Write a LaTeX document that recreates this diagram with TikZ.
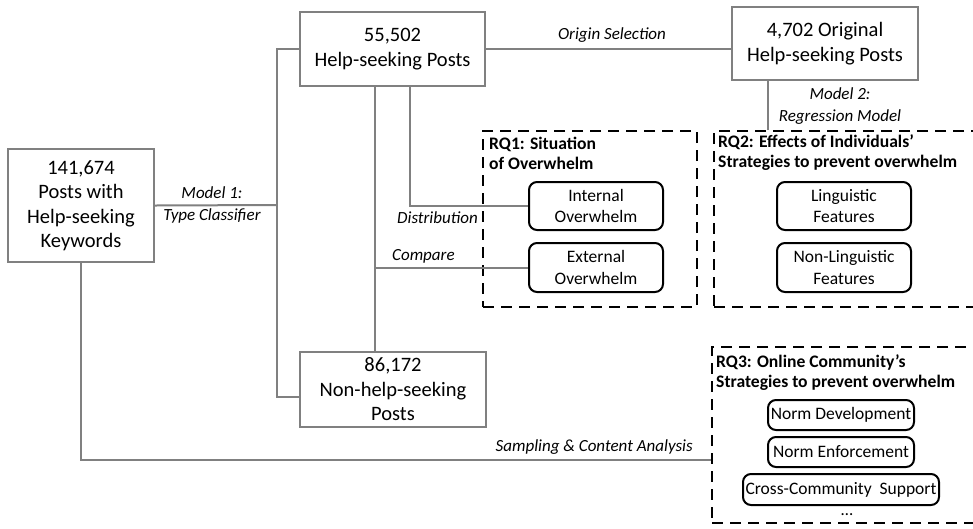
\documentclass[tikz,border=0pt]{standalone}
\usepackage{fontspec}
\setmainfont{Carlito}
\usetikzlibrary{calc}
\definecolor{lgray}{RGB}{128,128,128}
\tikzset{
  bigbox/.style={draw=lgray, line width=2.4pt, inner sep=0pt, align=center,
    font=\fontsize{20.5}{24.5}\selectfont},
  rbox/.style={draw=black, line width=2pt, rounded corners=8pt, inner sep=0pt, align=center,
    font=\fontsize{17.5}{21.5}\selectfont},
  rqbox/.style={draw=black, line width=2.6pt, dash pattern=on 11pt off 7pt, inner sep=0pt},
  rqtitle/.style={font=\bfseries\fontsize{17.6}{20}\selectfont, align=left, anchor=west, inner sep=0pt},
  conn/.style={draw=lgray, line width=2pt},
  lbl/.style={font=\itshape\fontsize{17}{22}\selectfont, align=center, inner sep=0pt}
}
\begin{document}
\begin{tikzpicture}[x=1pt, y=-1pt]
\useasboundingbox (0,0) rectangle (973,528);
\clip (0,0) rectangle (973,528);
% dashed regions
\node[rqbox, minimum width=214pt, minimum height=176pt] (rq1) at (590,219) {};
\node[rqbox, minimum width=271pt, minimum height=176pt] (rq2) at (849.5,219) {};
\node[rqbox, minimum width=273pt, minimum height=176pt] (rq3) at (848.5,435) {};
\node[rqtitle] (t1) at (489,153) {RQ1: Situation\\of Overwhelm};
\node[rqtitle] (t2) at (718,153) {RQ2: Effects of Individuals’\\Strategies to prevent overwhelm};
\node[rqtitle] (t3) at (716,373) {RQ3: Online Community’s\\Strategies to prevent overwhelm};
% main boxes
\node[bigbox, minimum width=146pt, minimum height=113pt] (A) at (81,205.5) {141,674\\Posts with\\Help-seeking\\Keywords};
\node[bigbox, minimum width=185pt, minimum height=74pt] (B) at (392.5,49) {55,502\\Help-seeking Posts};
\node[bigbox, minimum width=186pt, minimum height=73pt] (C) at (825,43.5) {4,702 Original\\Help-seeking Posts};
\node[bigbox, minimum width=186pt, minimum height=75pt] (D) at (393,389.5) {86,172\\Non-help-seeking\\Posts};
% inner boxes
\node[rbox, minimum width=134pt, minimum height=48pt] (int) at (596,206) {Internal\\Overwhelm};
\node[rbox, minimum width=134pt, minimum height=49pt] (ext) at (596,267.5) {External\\Overwhelm};
\node[rbox, minimum width=134pt, minimum height=48pt] (lin) at (844,206) {Linguistic\\Features};
\node[rbox, minimum width=134pt, minimum height=49pt] (nlin) at (844,267.5) {Non-Linguistic\\Features};
\node[rbox, minimum width=146pt, minimum height=30pt] (nd) at (841,415) {Norm Development};
\node[rbox, minimum width=146pt, minimum height=30pt] (ne) at (841,452) {Norm Enforcement};
\node[rbox, minimum width=196pt, minimum height=31pt] (cc) at (841,489.5) {Cross-Community\ \ Support};
\node[font=\fontsize{17}{20}\selectfont, inner sep=0pt] (dots) at (847,515) {…};
% connectors
\coordinate (jm) at (277,205);
\coordinate (dx) at (410,0);
\coordinate (cx) at (375,0);
\coordinate (m2) at (768,0);
\coordinate (sy) at (0,460);
\draw[conn] (A.east) -- (jm);
\draw[conn] (B.west) -| (jm) |- ($(D.west)+(0,7)$);
\draw[conn] (B.east) -- (C.west |- B.east);
\draw[conn] (C.south -| m2) -- (rq2.north -| m2);
\draw[conn] (B.south -| dx) |- (int.west);
\draw[conn] (B.south -| cx) -- (D.north -| cx);
\draw[conn] (cx |- ext.west) -- (ext.west);
\draw[conn] (A.south) |- (rq3.west |- sy);
% labels
\node[lbl] (l1) at (212,205) {Model 1:\\Type Classifier};
\node[lbl] (l2) at (612,35) {Origin Selection};
\node[lbl] (l3) at (840,106.5) {Model 2:\\Regression Model};
\node[lbl, anchor=east] (l4) at (478,218) {Distribution};
\node[lbl, anchor=west] (l5) at (392,256) {Compare};
\node[lbl, anchor=east] (l6) at (693,447) {Sampling \& Content Analysis};
\end{tikzpicture}
\end{document}
